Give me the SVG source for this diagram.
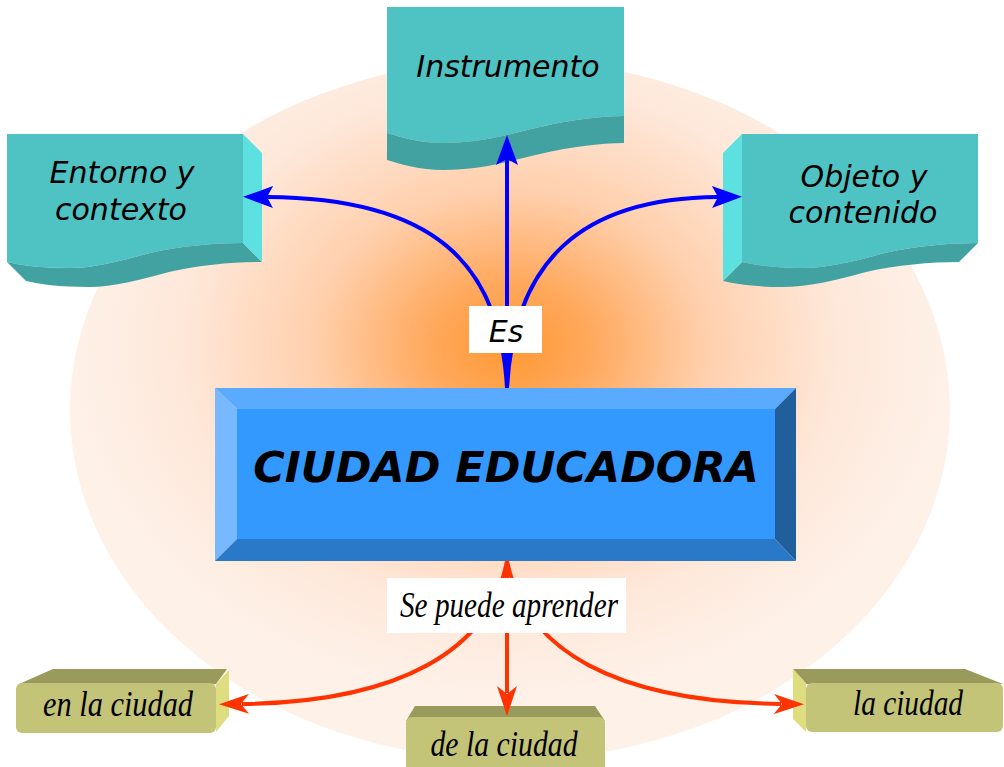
<svg xmlns="http://www.w3.org/2000/svg" width="1004" height="767" viewBox="0 0 1004 767">
<defs>
<radialGradient id="bg" cx="0.5" cy="0.41" r="0.5">
<stop offset="0" stop-color="#FF9933"/>
<stop offset="0.18" stop-color="#FFA85C"/>
<stop offset="0.45" stop-color="#FFD0AE"/>
<stop offset="0.75" stop-color="#FEE8DA"/>
<stop offset="1" stop-color="#FEF1E8"/>
</radialGradient>
<marker id="ab" markerUnits="userSpaceOnUse" markerWidth="32" markerHeight="24" viewBox="0 -12 32 24" refX="6" refY="0" orient="auto">
<path d="M0,-11 L30,0 L0,11 L6,0 Z" fill="#0000FF"/>
</marker>
<marker id="ar" markerUnits="userSpaceOnUse" markerWidth="32" markerHeight="24" viewBox="0 -12 32 24" refX="7" refY="0" orient="auto">
<path d="M0,-10 L30,0 L0,10 L8,0 Z" fill="#FF3300"/>
</marker>
<style>
.front{fill:#4FC3C3}
.side{fill:#5CE0E0}
.band{fill:#42A2A2}
.tt{font-family:"DejaVu Sans",Verdana,sans-serif;font-style:italic;font-size:30px;fill:#000;text-anchor:middle}
.st{font-family:"Liberation Serif","Times New Roman",serif;font-style:italic;font-size:36px;fill:#000;text-anchor:middle}
.oface{fill:#C4C478}
.otop{fill:#9A9A5C}
.oside{fill:#DEDE80}
.blue{fill:none;stroke:#0000FF;stroke-width:4;marker-end:url(#ab)}
.red{fill:none;stroke:#FF3300;stroke-width:4;marker-end:url(#ar)}
</style>
</defs>
<ellipse id="background" cx="510" cy="410" rx="440" ry="350" fill="url(#bg)"/>

<g id="node-entorno">
<path class="front" d="M7,134 H243 V243 C215,243 180,246 150,253 C120,261 95,268 70,268 C40,268 20,265 7,262 Z"/>
<path class="band" d="M7,262 C20,265 40,268 70,268 C95,268 120,261 150,253 C180,246 215,243 243,243 L262,262 C234,262 199,265 169,272 C139,280 114,287 89,287 C59,287 39,284 26,281 Z"/>
<path class="side" d="M243,134 L262,153 V262 L243,243 Z"/>
<text class="tt" x="122" y="183">Entorno y</text>
<text class="tt" x="121" y="220">contexto</text>
</g>

<g id="node-instrumento">
<path class="front" d="M387,7 H624 V116 C600,116 570,120 540,127 C510,134 480,143 443,143 C420,143 400,137 387,133 Z"/>
<path class="band" d="M387,133 C400,137 420,143 443,143 C480,143 510,134 540,127 C570,120 600,116 624,116 V143 C600,143 570,147 540,154 C510,161 480,170 443,170 C420,170 400,164 387,160 Z"/>
<text class="tt" x="508" y="77">Instrumento</text>
</g>

<g id="node-objeto">
<path class="front" d="M742,134 H978 V243 C950,243 915,246 885,253 C855,261 830,268 800,268 C775,268 755,265 742,262 Z"/>
<path class="band" d="M742,262 C755,265 775,268 800,268 C830,268 855,261 885,253 C915,246 950,243 978,243 L959,262 C931,262 896,265 866,272 C836,280 811,287 781,287 C756,287 736,284 723,281 Z"/>
<path class="side" d="M742,134 L723,153 V281 L742,262 Z"/>
<text class="tt" x="864" y="187">Objeto y</text>
<text class="tt" x="863" y="223">contenido</text>
</g>

<g id="node-en-la-ciudad">
<path class="otop" d="M19,684 L53,669 H227 L216,684 Z"/>
<path class="oside" d="M216,684 L229,670 V716 L216,732 Z"/>
<rect class="oface" x="16" y="683" width="200" height="50" rx="6"/>
<text class="st" x="118" y="716" textLength="150" lengthAdjust="spacingAndGlyphs">en la ciudad</text>
</g>

<g id="node-de-la-ciudad">
<path class="otop" d="M406,721 L415,706 H595 L605,721 Z"/>
<rect class="oface" x="406" y="717" width="199" height="62" rx="6"/>
<text class="st" x="504" y="756" textLength="147" lengthAdjust="spacingAndGlyphs">de la ciudad</text>
</g>

<g id="node-la-ciudad">
<path class="otop" d="M793,669 H965 L1003,684 H806 Z"/>
<path class="oside" d="M793,669 L806,683 V732 L793,719 Z"/>
<rect class="oface" x="806" y="683" width="197" height="49" rx="6"/>
<text class="st" x="908" y="715" textLength="110" lengthAdjust="spacingAndGlyphs">la ciudad</text>
</g>

<g id="connectors">
<path class="blue" d="M507,388 C500,262 432,198 267,197"/>
<path class="blue" d="M507,388 V159"/>
<path class="blue" d="M507,388 C514,262 580,198 718,197"/>
<path class="red" d="M507,561 C490,650 400,702 242,704"/>
<path class="red" d="M507,561 V693"/>
<path class="red" d="M507,561 C525,650 615,702 781,704"/>
</g>

<g id="node-ciudad-educadora">
<rect x="237" y="409" width="538" height="130" fill="#3399FF"/>
<path d="M215,388 H796 L775,409 H237 Z" fill="#5AABFF"/>
<path d="M215,388 L237,409 V539 L215,561 Z" fill="#77B8FF"/>
<path d="M796,388 V561 L775,539 V409 Z" fill="#215E9C"/>
<path d="M215,561 L237,539 H775 L796,561 Z" fill="#2A78C8"/>
<text x="506" y="482" font-family="'DejaVu Sans',Verdana,sans-serif" font-weight="bold" font-style="italic" font-size="43" text-anchor="middle" fill="#000">CIUDAD EDUCADORA</text>
</g>

<g id="connector-labels">
<rect x="469" y="306" width="73" height="47" fill="#FFFFFF"/>
<text class="tt" x="506" y="342">Es</text>
<rect x="387" y="578" width="239" height="55" fill="#FFFFFF"/>
<text class="st" x="509" y="617" textLength="218" lengthAdjust="spacingAndGlyphs">Se puede aprender</text>
</g>
</svg>
